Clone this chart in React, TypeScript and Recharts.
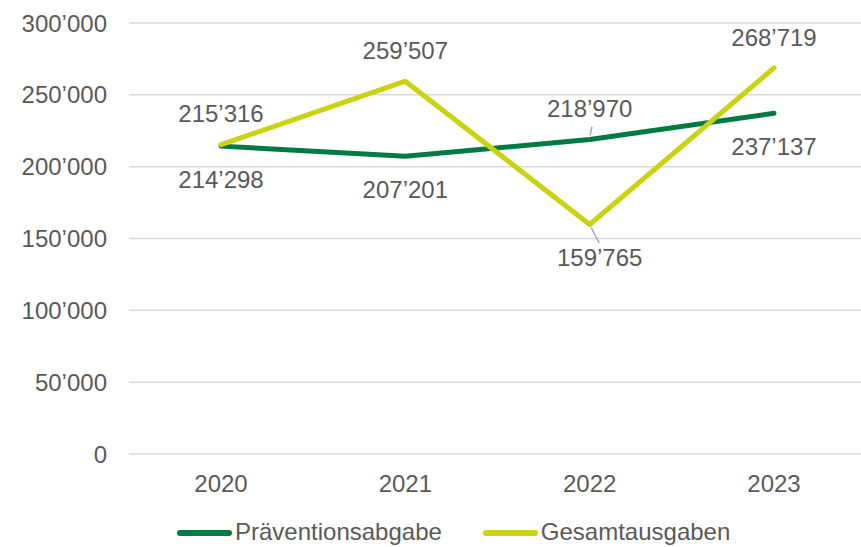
import React from 'react';
import { LineChart, Line, XAxis, YAxis, CartesianGrid, Legend, LabelList } from 'recharts';

const years = ['2020', '2021', '2022', '2023'];
const praevention = [214298, 207201, 218970, 237137];
const gesamtausgaben = [215316, 259507, 159765, 268719];
const yTicks = [0, 50000, 100000, 150000, 200000, 250000, 300000];
const seriesNames = ['Präventionsabgabe', 'Gesamtausgaben'];

// label placement (styling, not data)
const praevLabelPos = ['below', 'below', 'above', 'below'];
const gesamtLabelPos = ['above', 'above', 'below', 'above'];

const data = years.map((y, i) => ({
  year: y,
  praev: praevention[i],
  gesamt: gesamtausgaben[i],
}));

const FONT = '"Liberation Sans", Arial, sans-serif';
const TEXT = '#595959';
const GREEN = '#007A45';
const YELLOW = '#CBD20F';

const fmt = (n: number) => String(n).replace(/\B(?=(\d{3})+(?!\d))/g, '\u2019');

const makeLabel = (pos: string[], series: 'praev' | 'gesamt') => (props: any) => {
  const { x, y, value, index } = props;
  const p = pos[index];
  const dy = p === 'above' ? -31 : 33;
  let dx = 0;
  let leader: React.ReactNode = null;
  if (series === 'praev' && index === 2) {
    leader = <line x1={x + 0.5} y1={y - 4} x2={x + 2.2} y2={y - 12.7} stroke="#A6A6A6" strokeWidth={1.5} />;
  }
  if (series === 'gesamt' && index === 2) {
    dx = 10;
    leader = <line x1={x + 1.5} y1={y + 3} x2={x + 9.5} y2={y + 18.5} stroke="#A6A6A6" strokeWidth={1.5} />;
  }
  return (
    <g>
      {leader}
      <text
        x={x + dx}
        y={y + dy}
        dy="0.36em"
        textAnchor="middle"
        fontFamily={FONT}
        fontSize={24}
        fill={TEXT}
      >
        {fmt(value)}
      </text>
    </g>
  );
};

const LegendContent = (props: any) => {
  const payload = [...(props.payload || [])].sort(
    (a: any, b: any) => seriesNames.indexOf(a.value) - seriesNames.indexOf(b.value)
  );
  return (
    <div style={{ display: 'flex', alignItems: 'center', height: 28, fontFamily: FONT, fontSize: 24, color: TEXT }}>
      {payload.map((entry: any, i: number) => (
        <div key={i} style={{ display: 'flex', alignItems: 'center', marginRight: 41 }}>
          <span
            style={{
              display: 'inline-block',
              width: 55,
              height: 6,
              borderRadius: 3,
              background: entry.color,
              marginRight: 3,
              marginTop: 2,
            }}
          />
          <span style={{ lineHeight: '28px', whiteSpace: 'nowrap' }}>{entry.value}</span>
        </div>
      ))}
    </div>
  );
};

export default function App() {
  return (
    <div style={{ position: 'absolute', left: 0, top: 0, width: 861, height: 547, overflow: 'hidden', background: '#fff' }}>
      <LineChart
        width={866}
        height={547}
        data={data}
        margin={{ top: 23, right: 0, bottom: 0, left: 0 }}
        style={{ fontFamily: FONT }}
      >
        <CartesianGrid vertical={false} stroke="#D9D9D9" strokeWidth={1.5} />
        <XAxis
          dataKey="year"
          axisLine={false}
          tickLine={false}
          tickSize={0}
          tickMargin={21}
          height={65}
          padding={{ left: 92, right: 92 }}
          tick={{ fill: TEXT, fontSize: 24, fontFamily: FONT }}
        />
        <YAxis
          width={129}
          domain={[0, 300000]}
          ticks={yTicks}
          axisLine={false}
          tickLine={false}
          tickSize={0}
          tickMargin={22}
          tickFormatter={fmt}
          tick={{ fill: TEXT, fontSize: 24, fontFamily: FONT }}
        />
        <Legend
          verticalAlign="bottom"
          wrapperStyle={{ left: 177, top: 518, width: 640, height: 28 }}
          content={LegendContent}
        />
        <Line
          type="linear"
          dataKey="praev"
          name={seriesNames[0]}
          stroke={GREEN}
          strokeWidth={5}
          strokeLinecap="round"
          strokeLinejoin="round"
          dot={false}
          activeDot={false}
          isAnimationActive={false}
        >
          <LabelList dataKey="praev" content={makeLabel(praevLabelPos, 'praev')} />
        </Line>
        <Line
          type="linear"
          dataKey="gesamt"
          name={seriesNames[1]}
          stroke={YELLOW}
          strokeWidth={5}
          strokeLinecap="round"
          strokeLinejoin="round"
          dot={false}
          activeDot={false}
          isAnimationActive={false}
        >
          <LabelList dataKey="gesamt" content={makeLabel(gesamtLabelPos, 'gesamt')} />
        </Line>
      </LineChart>
    </div>
  );
}
